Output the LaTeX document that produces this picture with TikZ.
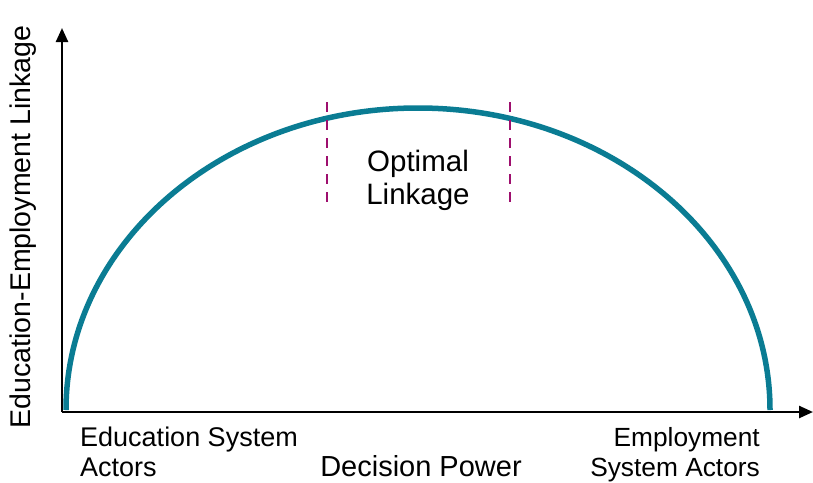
\documentclass[tikz,border=0pt]{standalone}
\usepackage{fontspec}
\setmainfont{Liberation Sans}
\usetikzlibrary{arrows.meta}
\definecolor{linkcol}{RGB}{10,124,147}
\definecolor{optcol}{RGB}{158,15,110}
\tikzset{
  axis/.style={line width=2.4pt, -{Triangle[length=14pt,width=12pt]}},
  linkcurve/.style={draw=linkcol, line width=5.5pt},
  optline/.style={draw=optcol, line width=2pt, dash pattern=on 10pt off 8pt},
  lbl/.style={inner sep=0pt, font=\fontsize{27}{30}\selectfont}
}
\begin{document}
\begin{tikzpicture}[x=1pt, y=-1pt]
        \useasboundingbox (0, 0) rectangle (813, 482);

        % axes
        \coordinate (o) at (62, 412);
        \coordinate (ytop) at (62, 28);
        \coordinate (xend) at (813, 412);
        \draw[axis] (o) -- (ytop);
        \draw[axis] (o) -- (xend);

        % courbe
        \draw[linkcurve] (66, 410) arc[start angle=180, end angle=0, x radius=352, y radius=-302];

        % zone optimale
        \coordinate (d1a) at (327, 102);
        \coordinate (d1b) at (327, 208);
        \coordinate (d2a) at (510, 102);
        \coordinate (d2b) at (510, 208);
        \draw[optline] (d1a) -- (d1b);
        \draw[optline] (d2a) -- (d2b);
        \node[lbl, font=\fontsize{29.5}{33}\selectfont, align=center] (opt) at (418, 180) {Optimal\\Linkage};

        % textes des axes
        \node[lbl, font=\fontsize{28.5}{30}\selectfont, rotate=90] (ylab) at (23, 227) {Education-Employment Linkage};
        \node[lbl, anchor=north west, align=left] (edu) at (80, 427) {Education System\\Actors};
        \node[lbl, font=\fontsize{26.3}{30}\selectfont, anchor=north east, align=right] (emp) at (760, 427) {Employment\\System Actors};
        \node[lbl, font=\fontsize{29}{30}\selectfont] (dp) at (421, 466) {Decision Power};

  \end{tikzpicture}
\end{document}
